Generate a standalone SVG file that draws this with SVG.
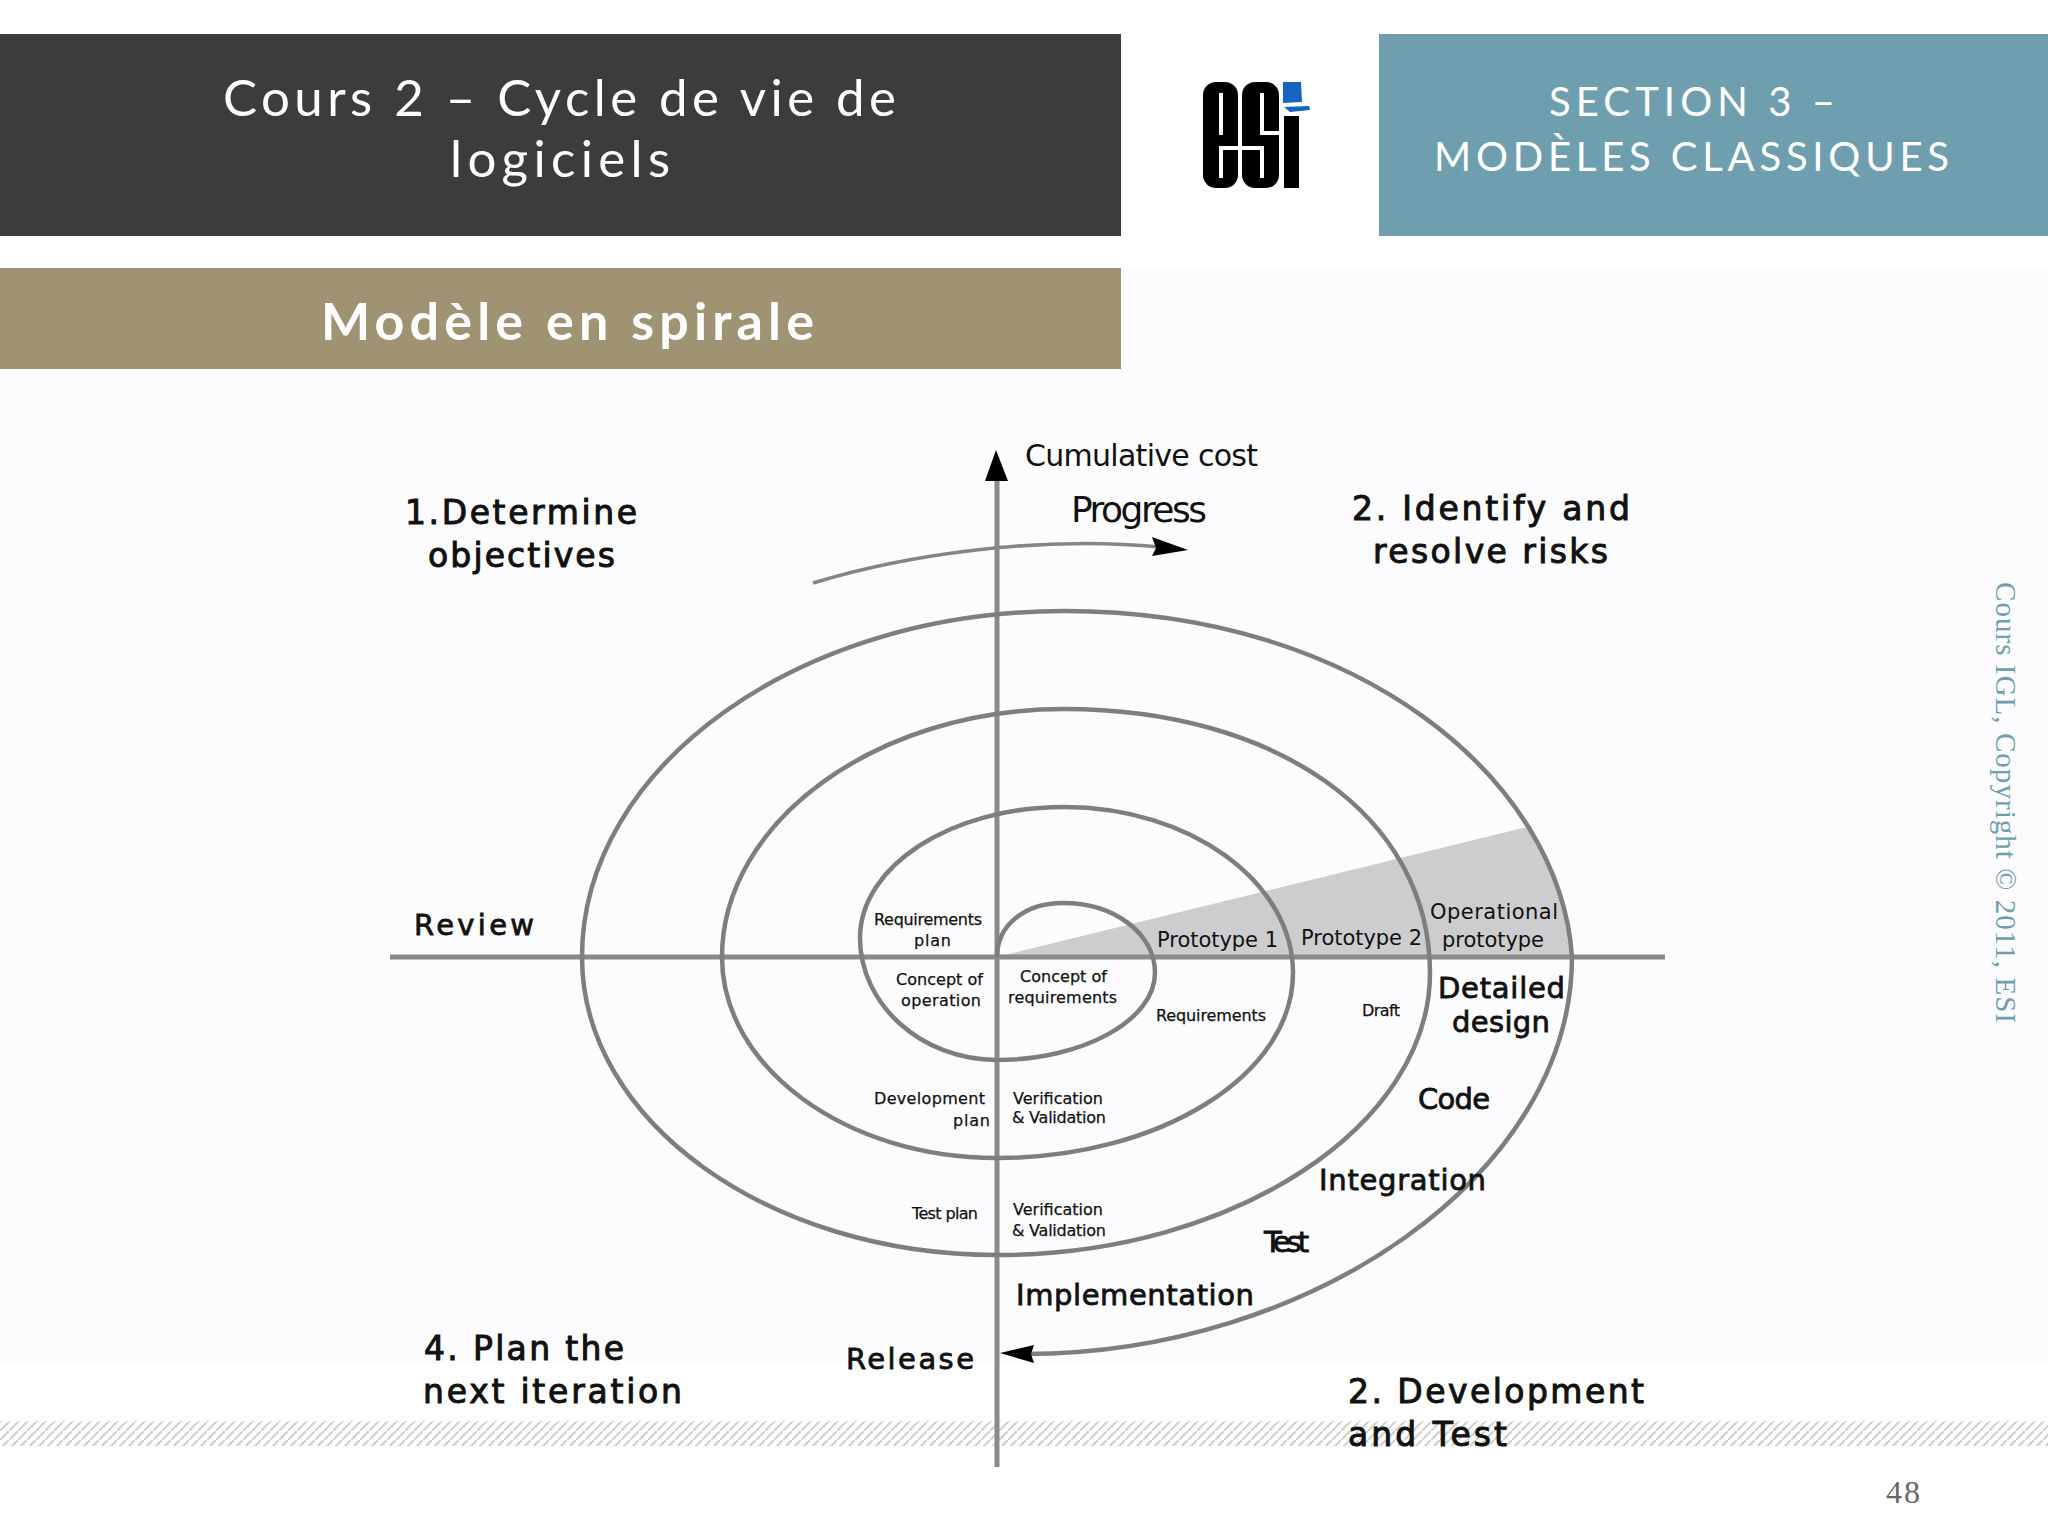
<svg xmlns="http://www.w3.org/2000/svg" width="2048" height="1536" viewBox="0 0 2048 1536">
<style>
.h{font-family:Lato,"Open Sans",sans-serif;fill:#fff}
.d{font-family:"DejaVu Sans","Liberation Sans",sans-serif;fill:#111}
.b{font-size:33px;stroke:#111;stroke-width:1}
.m{font-size:29px;stroke:#111;stroke-width:.8}
.s{font-size:21px}
.t{font-size:16px;stroke:#111;stroke-width:.25}
.a{fill:none;stroke:#8a8a8a;stroke-width:5}
.l{fill:none;stroke:#7e7e7e;stroke-width:4.5}
.w{fill:none;stroke:#fff;stroke-width:4}
</style>
<defs>
<pattern id="hatch" width="9" height="9" patternUnits="userSpaceOnUse"><path d="M-1,10 L10,-1" stroke="#d0d0d3" stroke-width="2.2"/></pattern>
</defs>
<rect width="2048" height="1536" fill="#fff"/>
<rect id="image-bg" x="0" y="268" width="2048" height="1096" fill="#fcfcfe"/>
<rect id="footer-stripe" x="0" y="1421" width="2048" height="25" fill="url(#hatch)"/>
<g id="title-bar"><rect x="0" y="34" width="1121" height="202" fill="#3c3c3c"/>
<text class="h" x="223" y="116" font-size="51" textLength="673">Cours 2 – Cycle de vie de</text>
<text class="h" x="450" y="177" font-size="51" textLength="220">logiciels</text></g>
<g id="logo">
<rect x="1203" y="82" width="35" height="106" rx="13" fill="#000"/>
<rect x="1242" y="82" width="37" height="106" rx="13" fill="#000"/>
<rect x="1284" y="116" width="15" height="72" fill="#000"/>
<path class="w" d="M1221,93 V135 M1240,148 H1221 V178 M1262,93 V133 H1281 M1240,148 H1262 V178"/>
<path fill="#1565c0" d="M1283,82 H1301 L1302,102 L1283,103 Z M1284,107 L1309,106 L1310,110 L1290,112 Z"/>
</g>
<g id="section-bar"><rect x="1379" y="34" width="669" height="202" fill="#6f9fae"/>
<text class="h" x="1549" y="116" font-size="40" textLength="286">SECTION 3 –</text>
<text class="h" x="1434" y="171" font-size="40" textLength="515">MODÈLES CLASSIQUES</text></g>
<g id="subtitle-bar"><rect x="0" y="268" width="1121" height="101" fill="#a09373"/>
<text class="h" x="321" y="340" font-size="52" font-weight="700" textLength="493">Modèle en spirale</text></g>
<g id="wedge"><path fill="#cdcccf" d="M997,957 L1527,827 C1552,865 1572,910 1572,957 Z"/></g>
<g id="connectors">
<line class="a" x1="390" y1="957" x2="1665" y2="957"/>
<line class="a" x1="997" y1="470" x2="997" y2="1467"/>
<path class="l" d="M997,957 C997,925 1025,903 1063,903 C1115,903 1155,934 1155,973 C1155,1020 1083,1060 997,1060 C921,1060 860,1004 860,938 C860,866 951,807 1064,807 C1190,807 1293,882 1293,973 C1293,1075 1160,1158 997,1158 C845,1158 722,1067 722,957 C722,822 876,709 1064,709 C1275,709 1430,815 1430,973 C1430,1125 1235,1255 997,1255 C768,1255 582,1121 582,957 C582,767 798,611 1064,611 C1360,611 1560,780 1572,957 C1572,1175 1310,1354 1025,1354"/>
<path d="M813,583 C905,555 1040,535 1160,547" fill="none" stroke="#858585" stroke-width="3.5"/>
<path fill="#000" d="M996,450 L1008,481 H985 Z"/>
<path fill="#000" d="M1188,550 L1152,537 L1156,548 L1152,556 Z"/>
<path fill="#000" d="M1000,1353 L1034,1345 L1031,1354 L1034,1363 Z"/>
</g>
<g id="labels">
<text class="d" x="1025" y="466" font-size="30" textLength="233">Cumulative cost</text>
<text class="d" x="1071" y="522" font-size="36" textLength="136">Progress</text>
<text class="d b" x="405" y="524" textLength="232">1.Determine</text>
<text class="d b" x="428" y="567" textLength="187">objectives</text>
<text class="d b" x="1352" y="520" textLength="278">2. Identify and</text>
<text class="d b" x="1373" y="563" textLength="235">resolve risks</text>
<text class="d m" x="414" y="935" textLength="120">Review</text>
<text class="d t" x="874" y="925" textLength="108">Requirements</text>
<text class="d t" x="914" y="946" textLength="37">plan</text>
<text class="d t" x="896" y="985" textLength="87">Concept of</text>
<text class="d t" x="901" y="1006" textLength="80">operation</text>
<text class="d t" x="1020" y="982" textLength="87">Concept of</text>
<text class="d t" x="1008" y="1003" textLength="109">requirements</text>
<text class="d s" x="1157" y="947" textLength="121">Prototype 1</text>
<text class="d s" x="1301" y="945" textLength="121">Prototype 2</text>
<text class="d s" x="1430" y="919" textLength="128">Operational</text>
<text class="d s" x="1442" y="947" textLength="102">prototype</text>
<text class="d m" x="1438" y="998" textLength="127">Detailed</text>
<text class="d m" x="1452" y="1032" textLength="98">design</text>
<text class="d t" x="1156" y="1021" textLength="110">Requirements</text>
<text class="d t" x="1362" y="1016" textLength="38">Draft</text>
<text class="d t" x="874" y="1104" textLength="111">Development</text>
<text class="d t" x="953" y="1126" textLength="37">plan</text>
<text class="d t" x="1013" y="1104" textLength="90">Verification</text>
<text class="d t" x="1012" y="1123" textLength="94">&amp; Validation</text>
<text class="d m" x="1418" y="1109" textLength="72">Code</text>
<text class="d m" x="1319" y="1190" textLength="167">Integration</text>
<text class="d t" x="912" y="1219" textLength="66">Test plan</text>
<text class="d t" x="1013" y="1215" textLength="90">Verification</text>
<text class="d t" x="1012" y="1236" textLength="94">&amp; Validation</text>
<text class="d m" x="1264" y="1252" textLength="45">Test</text>
<text class="d m" x="1016" y="1305" textLength="238">Implementation</text>
<text class="d b" x="424" y="1360" textLength="200">4. Plan the</text>
<text class="d b" x="423" y="1403" textLength="259">next iteration</text>
<text class="d m" x="846" y="1369" textLength="128">Release</text>
<text class="d b" x="1348" y="1403" textLength="296">2. Development</text>
<text class="d b" x="1348" y="1446" textLength="159">and Test</text>
</g>
<text id="copyright" transform="translate(1996,582) rotate(90)" font-family="Liberation Serif,serif" font-size="29" fill="#6f9fae" textLength="441">Cours IGL, Copyright © 2011, ESI</text>
<text id="page" x="1886" y="1503" font-family="Liberation Serif,serif" font-size="32" fill="#666" textLength="34">48</text>
</svg>
